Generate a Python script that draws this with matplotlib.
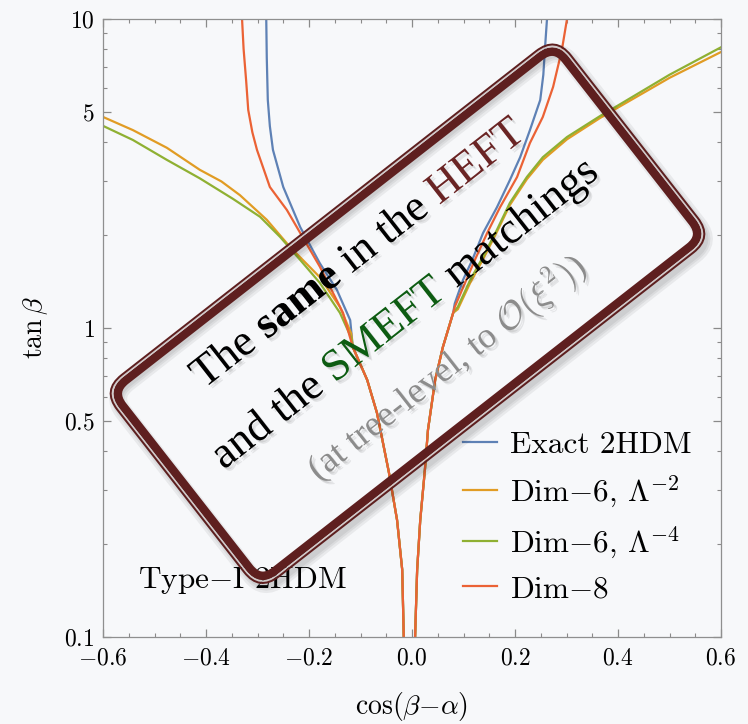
import numpy as np
import matplotlib
matplotlib.use('Agg')
import matplotlib.pyplot as plt
import matplotlib.transforms as mtransforms
import matplotlib.patheffects as pe
from matplotlib.patches import FancyBboxPatch

plt.rcParams['mathtext.fontset'] = 'cm'
plt.rcParams['font.family'] = 'serif'
plt.rcParams['font.serif'] = ['cmr10']

# --- curves (cos(b-a), tan b) ---
# below tanb ~ 1 all four curves lie on top of each other
low_left_x = [-0.115, -0.087, -0.068, -0.045, -0.029, -0.019, -0.016]
low_left_y = [0.868, 0.679, 0.531, 0.342, 0.239, 0.165, 0.10]
low_right_x = [0.006, 0.010, 0.016, 0.025, 0.031, 0.045, 0.060, 0.080]
low_right_y = [0.10, 0.165, 0.239, 0.347, 0.468, 0.679, 0.868, 1.12]

exact_ul_x = [-0.283, -0.282, -0.280, -0.276, -0.270, -0.250, -0.217, -0.179, -0.146, -0.120]
exact_ul_y = [10.0, 7.5, 5.47, 4.5, 3.77, 2.86, 2.12, 1.62, 1.33, 1.06]
exact_ur_x = [0.083, 0.099, 0.117, 0.138, 0.165, 0.190, 0.210, 0.229, 0.249, 0.255, 0.258, 0.262, 0.263]
exact_ur_y = [1.20, 1.43, 1.66, 2.03, 2.46, 3.01, 3.57, 4.37, 5.47, 6.6, 7.94, 9.93, 10.0]

d6a_ul_x = [-0.600, -0.542, -0.476, -0.412, -0.370, -0.334, -0.282, -0.237, -0.179, -0.140, -0.118]
d6a_ul_y = [4.82, 4.37, 3.83, 3.25, 2.98, 2.69, 2.24, 1.83, 1.46, 1.17, 0.96]
d6a_ur_x = [0.089, 0.113, 0.138, 0.165, 0.190, 0.223, 0.254, 0.301, 0.365, 0.400, 0.500, 0.600]
d6a_ur_y = [1.15, 1.40, 1.67, 2.05, 2.50, 3.03, 3.50, 4.08, 4.78, 5.17, 6.45, 7.82]

d6b_ul_x = [-0.600, -0.542, -0.476, -0.412, -0.348, -0.295, -0.256, -0.217, -0.179, -0.140, -0.118]
d6b_ul_y = [4.51, 4.06, 3.50, 3.05, 2.62, 2.29, 1.97, 1.66, 1.40, 1.12, 0.93]
d6b_ur_x = [0.089, 0.113, 0.138, 0.165, 0.190, 0.223, 0.254, 0.301, 0.365, 0.400, 0.500, 0.600]
d6b_ur_y = [1.17, 1.43, 1.70, 2.08, 2.54, 3.08, 3.57, 4.15, 4.85, 5.25, 6.60, 8.10]

d8_ul_x = [-0.330, -0.327, -0.322, -0.318, -0.310, -0.301, -0.276, -0.243, -0.217, -0.179, -0.134]
d8_ul_y = [10.0, 8.0, 6.3, 5.08, 4.3, 3.77, 2.86, 2.41, 2.03, 1.58, 1.12]
d8_ur_x = [0.083, 0.103, 0.122, 0.146, 0.171, 0.204, 0.229, 0.254, 0.274, 0.291, 0.301]
d8_ur_y = [1.17, 1.40, 1.66, 2.03, 2.46, 3.08, 3.97, 4.82, 6.03, 7.94, 10.0]

labels = ['Exact 2HDM', r'Dim$-$6, $\Lambda^{-2}$', r'Dim$-$6, $\Lambda^{-4}$', r'Dim$-$8']
colors = ['#5e81b5', '#e19c24', '#8fb032', '#eb6235']

xticks = [-0.6, -0.4, -0.2, 0.0, 0.2, 0.4, 0.6]
xtick_labels = ['$-0.6$', '$-0.4$', '$-0.2$', '$0.0$', '$0.2$', '$0.4$', '$0.6$']
yticks = [0.1, 0.5, 1, 5, 10]
ytick_labels = ['$0.1$', '$0.5$', '$1$', '$5$', '$10$']
yminor = [0.2, 0.3, 0.4, 0.6, 0.7, 0.8, 0.9, 2, 3, 4, 6, 7, 8, 9]

bg = '#f7f8fa'
maroon = '#5e1f1f'

fig = plt.figure(figsize=(7.48, 7.24), dpi=100, facecolor=bg)
ax = fig.add_axes([103/748, 87/724, 618/748, 618/724], facecolor=bg)

series = [(exact_ul_x, exact_ul_y, exact_ur_x, exact_ur_y),
          (d6a_ul_x, d6a_ul_y, d6a_ur_x, d6a_ur_y),
          (d6b_ul_x, d6b_ul_y, d6b_ur_x, d6b_ur_y),
          (d8_ul_x, d8_ul_y, d8_ur_x, d8_ur_y)]
for (ulx, uly, urx, ury), lab, c in zip(series, labels, colors):
    ax.plot(np.concatenate([ulx, low_left_x]), np.concatenate([uly, low_left_y]),
            color=c, lw=1.6, label=lab)
    ax.plot(np.concatenate([low_right_x, urx]), np.concatenate([low_right_y, ury]),
            color=c, lw=1.6)

ax.set_yscale('log')
ax.set_xlim(-0.6, 0.6)
ax.set_ylim(0.1, 10)
ax.set_xticks(xticks)
ax.set_xticklabels(xtick_labels)
ax.set_xticks(np.arange(-0.6, 0.601, 0.05), minor=True)
ax.set_yticks(yticks)
ax.set_yticklabels(ytick_labels)
ax.set_yticks(yminor, minor=True)
ax.yaxis.set_minor_formatter(matplotlib.ticker.NullFormatter())
ax.tick_params(which='both', direction='in', top=True, right=True, color='#8a8a8a',
               labelsize=17, pad=6)
ax.tick_params(axis='x', which='major', pad=7.5)
ax.tick_params(which='major', length=5.5, width=0.9)
ax.tick_params(which='minor', length=3.2, width=0.8)
for sp in ax.spines.values():
    sp.set_color('#8f8f8f')
    sp.set_linewidth(0.9)

ax.set_xlabel(r'$\cos(\beta{-}\alpha)$', fontsize=20, labelpad=15)
ax.set_ylabel(r'$\tan\beta$', fontsize=20, labelpad=10)

ax.text(0.057, 0.079, r'Type$-$I 2HDM', transform=ax.transAxes, fontsize=22.5,
        ha='left', va='baseline')

ax.legend(loc='upper left', bbox_to_anchor=(463/748, (724-431)/724),
          bbox_transform=fig.transFigure, frameon=False, fontsize=22.5,
          handlelength=1.1, handletextpad=0.4, labelspacing=0.46,
          borderpad=0, borderaxespad=0)

# --- rotated rounded box with text ---
ang = 38
cx, cy = 407.5 / 100, (724 - 313.75) / 100   # inches
W, H, r = 5.62, 2.42, 0.18


def ring(pad, lw, color, dx=0.0, dy=0.0, alpha=1.0):
    tr = (mtransforms.Affine2D().rotate_deg(ang).translate(cx + dx, cy + dy)
          + fig.dpi_scale_trans)
    p = FancyBboxPatch((-W / 2, -H / 2), W, H,
                       boxstyle=f'round,pad={pad},rounding_size={r + pad}',
                       transform=tr, fill=False, lw=lw, ec=color, alpha=alpha)
    fig.add_artist(p)


# soft shadow
for w in [18, 13, 9]:
    ring(0.03, w * 0.72, 'black', 0.035, -0.05, alpha=0.06)
ring(0.0, 8.5 * 0.72, maroon)
ring(0.05, 1.5 * 0.72, '#d2caca')
ring(0.0675, 2 * 0.72, maroon)

renderer = fig.canvas.get_renderer()
u = np.array([np.cos(np.radians(ang)), np.sin(np.radians(ang))])
n = np.array([np.sin(np.radians(ang)), -np.cos(np.radians(ang))])
center = np.array([407.5, 724 - 313.75])
shadow = [pe.SimplePatchShadow(offset=(2.5, -2.5), shadow_rgbFace='black', alpha=0.08),
          pe.SimplePatchShadow(offset=(1.5, -1.5), shadow_rgbFace='black', alpha=0.08),
          pe.Normal()]
box_font = 'Liberation Serif'


def width(s, size, weight='normal'):
    t = fig.text(0, 0, s, fontsize=size, family=box_font, weight=weight)
    w = t.get_window_extent(renderer).width
    t.remove()
    return w


def rot_line(pieces, perp, size):
    space = width('n n', size) - width('nn', size)
    ws = [width(s, size, wt) for s, c, wt in pieces]
    along = -2 - (sum(ws) + space * (len(ws) - 1)) / 2
    for (s, c, wt), w in zip(pieces, ws):
        pos = (center + along * u + perp * n) / 100
        fig.text(pos[0], pos[1], s, transform=fig.dpi_scale_trans, rotation=ang,
                 rotation_mode='anchor', ha='left', va='baseline', fontsize=size,
                 family=box_font, weight=wt, color=c, path_effects=shadow)
        along += w + space


rot_line([('The', 'black', 'normal'), ('same', 'black', 'bold'),
          ('in the', 'black', 'normal'), ('HEFT', '#6a2424', 'normal')], -66, 32)
rot_line([('and the', 'black', 'normal'), ('SMEFT', '#0d5c12', 'normal'),
          ('matchings', 'black', 'normal')], 10, 32)
rot_line([(r'(at tree-level, to $\mathcal{O}(\xi^2)$)', '#8c8c8c', 'normal')], 77, 26)

fig.savefig('out.png', dpi=100, facecolor=bg)
